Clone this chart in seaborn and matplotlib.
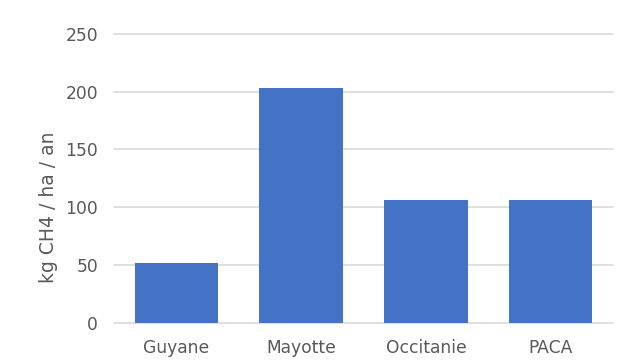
import matplotlib
matplotlib.use("Agg")
import matplotlib.pyplot as plt
import seaborn as sns
import pandas as pd

regions = ["Guyane", "Mayotte", "Occitanie", "PACA"]
emissions = [52, 203, 106, 106]
y_ticks = [0, 50, 100, 150, 200, 250]

df = pd.DataFrame({"region": regions, "emission": emissions})

sns.set_theme(style="white")
plt.rcParams["font.family"] = ["DejaVu Sans"]

text_color = "#595959"
fig = plt.figure(figsize=(6.22, 3.62), dpi=100)
ax = fig.add_axes([0.1833, 0.1086, 0.8022, 0.7974])

sns.barplot(data=df, x="region", y="emission", color="#4472C4", saturation=1,
            width=0.67, linewidth=0, ax=ax, zorder=3)

ax.set_ylim(0, 250)
ax.set_yticks(y_ticks)
ax.set_xlim(-0.5, len(regions) - 0.5)
ax.grid(axis="y", color="#d9d9d9", linewidth=1.2, zorder=0)
for gl in ax.get_ygridlines():
    gl.set_clip_on(False)
ax.set_axisbelow(True)
for side in ["top", "right", "left", "bottom"]:
    ax.spines[side].set_visible(False)
ax.tick_params(axis="y", length=0, labelsize=12.3, colors=text_color, pad=11.5)
ax.tick_params(axis="x", length=0, labelsize=12.3, colors=text_color, pad=12)
ax.set_xlabel("")
ax.set_ylabel("kg CH4 / ha / an", fontsize=13.5, color=text_color)
ax.yaxis.set_label_coords(-0.113, 0.40)

fig.savefig("out.png", dpi=100)
